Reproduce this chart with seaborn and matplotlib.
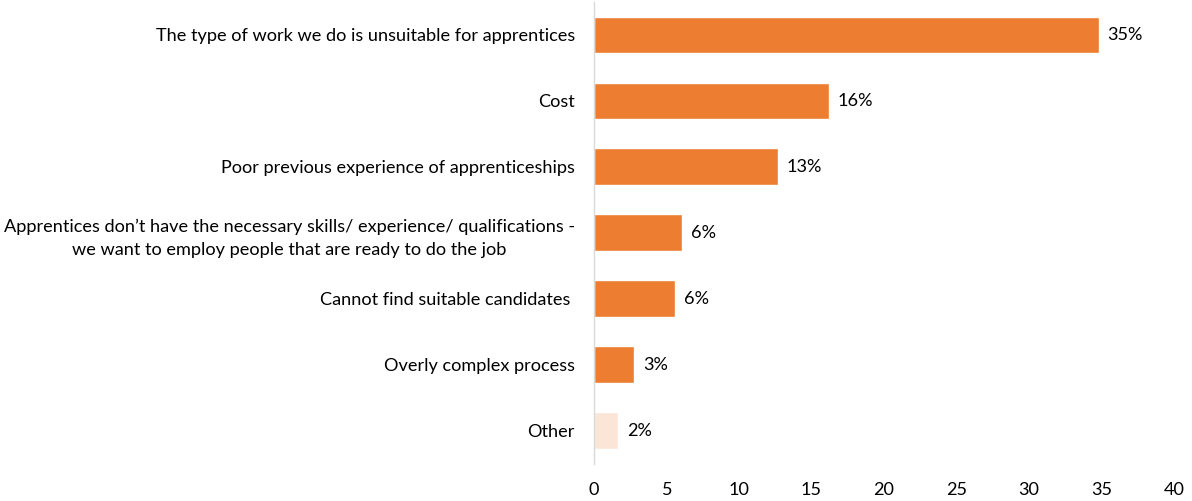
import matplotlib
matplotlib.use("Agg")
import matplotlib.pyplot as plt
import seaborn as sns
import pandas as pd

categories = [
    "The type of work we do is unsuitable for apprentices",
    "Cost",
    "Poor previous experience of apprenticeships",
    "Apprentices don\u2019t have the necessary skills/ experience/ qualifications -\nwe want to employ people that are ready to do the job",
    "Cannot find suitable candidates ",
    "Overly complex process",
    "Other",
]
shares = [34.8, 16.2, 12.7, 6.1, 5.6, 2.8, 1.7]
x_ticks = [0, 5, 10, 15, 20, 25, 30, 35, 40]

sns.set_theme(style="white")
plt.rcParams["font.family"] = ["Lato", "DejaVu Sans"]

df = pd.DataFrame({"reason": categories, "share": shares})
bar_colors = ["#ED7D31"] * (len(categories) - 1) + ["#FBE5D6"]

fig = plt.figure(figsize=(11.92, 5.01), dpi=100)
ax = fig.add_axes([0.498, 0.074, 0.487, 0.922])

sns.barplot(data=df, y="reason", x="share", hue="reason", palette=bar_colors,
            legend=False, orient="h", width=0.56, ax=ax, saturation=1)

ax.set_xlim(0, 40)
ax.set_ylim(6.5, -0.5)
ax.set_xticks(x_ticks)
ax.set_xticklabels([str(t) for t in x_ticks])
ax.set_xlabel("")
ax.set_ylabel("")

for spine in ["top", "right", "bottom"]:
    ax.spines[spine].set_visible(False)
ax.spines["left"].set_color("#D9D9D9")
ax.spines["left"].set_linewidth(1.0)

ax.tick_params(axis="y", length=0, pad=13.5, labelsize=13.1, labelcolor="#000000")
ax.tick_params(axis="x", length=0, pad=13, labelsize=13.1, labelcolor="#000000")
for lbl in ax.get_yticklabels():
    lbl.set_horizontalalignment("right")
    lbl.set_multialignment("center")
    lbl.set_linespacing(1.55)

for i, v in enumerate(shares):
    ax.text(v + 0.6, i, f"{round(v):d}%", va="center", ha="left",
            fontsize=13.1, color="#000000")

fig.savefig("out.png", dpi=100)
